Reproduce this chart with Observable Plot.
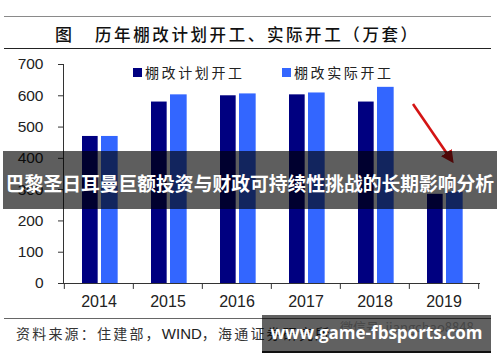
<!DOCTYPE html>
<html><head><meta charset="utf-8">
<script src="https://cdn.jsdelivr.net/npm/d3@7"></script>
<script src="https://cdn.jsdelivr.net/npm/@observablehq/plot@0.6"></script>
<style>
html,body{margin:0;padding:0;background:#fff;}
#wrap{position:relative;width:500px;height:362px;overflow:hidden;font-family:"Noto Sans CJK SC",sans-serif;}
.abs{position:absolute;}
</style></head>
<body><div id="wrap"></div>
<script>
const years = ["2014","2015","2016","2017","2018","2019"];
const planned = [470, 580, 600, 603, 580, 285];
const actual = [470, 603, 606, 609, 627, 292];
const yTicks = [0,100,200,300,400,500,600,700];
const seriesNames = ["棚改计划开工","棚改实际开工"];
const titleText = "历年棚改计划开工、实际开工（万套）";
const sourceParts = ["资料来源：住建部，", "WIND", "，海通证券研究所"];
const bannerText = "巴黎圣日耳曼巨额投资与财政可持续性挑战的长期影响分析";
const watermarkText = "www.game-fbsports.com";
const wechatText = "微信号: jiangchao8848";

const data = years.map((y,i)=>({year:y, plan:planned[i], actual:actual[i]}));
const bw = (500-63-21)/years.length;

const chart = Plot.plot({
  width:500, height:362,
  marginLeft:63, marginRight:21, marginTop:64, marginBottom:79,
  style:{fontFamily:"'Liberation Sans', Arial, sans-serif", background:"transparent", color:"#222"},
  x:{domain:years, paddingInner:0, paddingOuter:0, label:null},
  y:{domain:[0,700], label:null},
  marks:[
    Plot.barY(data,{x:"year", y:"plan", fill:"#000080", insetLeft:18, insetRight:bw-34}),
    Plot.barY(data,{x:"year", y:"actual", fill:"#3366ff", insetLeft:37, insetRight:bw-54}),
    Plot.frame({anchor:"left", stroke:"#333"}),
    Plot.frame({anchor:"bottom", stroke:"#333"}),
    Plot.ruleX(years,{x:d=>d, dx:-bw/2, y1:0, y2:-19, stroke:"#333"}),
    Plot.ruleX([years[years.length-1]],{x:d=>d, dx:bw/2, y1:0, y2:-19, stroke:"#333"}),
    Plot.axisY({ticks:yTicks, tickSize:5, tickPadding:15, fontSize:15.5, stroke:"#333", fill:"#222", label:null}),
    Plot.axisX({tickSize:0, tickPadding:12, fontSize:16, fill:"#222", label:null})
  ]
});
const wrap = document.getElementById("wrap");
chart.style.position="absolute"; chart.style.left="0"; chart.style.top="0";
wrap.appendChild(chart);

function add(html, css){ const d=document.createElement("div"); d.className="abs"; d.innerHTML=html; Object.assign(d.style, css); wrap.appendChild(d); return d; }

// title rules and text
add("",{left:"4px",top:"16px",width:"487px",height:"0",borderTop:"1.5px solid #8a8a8a"});
add("",{left:"4px",top:"48px",width:"487px",height:"0",borderTop:"1.5px solid #222"});
add("图",{left:"55px",top:"22px",fontSize:"17px",lineHeight:"24px",color:"#111",fontWeight:"500"});
add(titleText,{left:"95px",top:"22px",fontSize:"16.5px",lineHeight:"24px",letterSpacing:"2.6px",color:"#111",whiteSpace:"nowrap",fontWeight:"500"});

// legend
add("",{left:"133px",top:"68px",width:"9px",height:"9px",background:"#000080"});
add(seriesNames[0],{left:"145px",top:"62px",fontSize:"14px",lineHeight:"20px",letterSpacing:"2.6px",color:"#222",whiteSpace:"nowrap"});
add("",{left:"282px",top:"68px",width:"9px",height:"9px",background:"#3366ff"});
add(seriesNames[1],{left:"294px",top:"62px",fontSize:"14px",lineHeight:"20px",letterSpacing:"2.6px",color:"#222",whiteSpace:"nowrap"});

// red arrow annotation
const ns="http://www.w3.org/2000/svg";
const asvg=document.createElementNS(ns,"svg");
asvg.setAttribute("width","500");asvg.setAttribute("height","362");
asvg.style.position="absolute";asvg.style.left="0";asvg.style.top="0";
asvg.innerHTML='<defs><marker id="ah" markerWidth="5" markerHeight="5" refX="2.5" refY="2.5" orient="auto" markerUnits="strokeWidth"><path d="M0,0 L5,2.5 L0,5 z" fill="#d41414"/></marker></defs><line x1="413" y1="104" x2="450" y2="158" stroke="#d41414" stroke-width="2.6" marker-end="url(#ah)"/>';
wrap.appendChild(asvg);

// source
add("",{left:"4px",top:"318px",width:"487px",height:"0",borderTop:"1.5px solid #666"});
add(sourceParts[0]+'<span style="font-family:\'Liberation Sans\',Arial,sans-serif;letter-spacing:0;font-size:15px;color:#222">'+sourceParts[1]+'</span>'+sourceParts[2],{left:"16px",top:"323px",fontSize:"14px",lineHeight:"20px",letterSpacing:"2.2px",color:"#333",whiteSpace:"nowrap"});
add(wechatText,{left:"340px",top:"318px",fontSize:"13px",lineHeight:"18px",color:"#b8b8b8",whiteSpace:"nowrap"});

// banner overlay
add(bannerText,{left:"3px",top:"151px",width:"494px",height:"58px",background:"rgba(0,0,0,0.63)",color:"#fff",fontWeight:"700",fontSize:"18.8px",lineHeight:"20px",paddingTop:"22px",boxSizing:"border-box",textAlign:"center",whiteSpace:"nowrap",letterSpacing:"0px"});

// watermark box
add(watermarkText,{left:"262px",top:"315px",width:"229px",height:"36px",background:"rgba(0,0,0,0.62)",color:"#fff",fontFamily:"'Open Sans',sans-serif",fontWeight:"700",fontSize:"17px",lineHeight:"36px",textAlign:"center",whiteSpace:"nowrap",borderBottom:"2px solid #111"});
</script></body></html>
